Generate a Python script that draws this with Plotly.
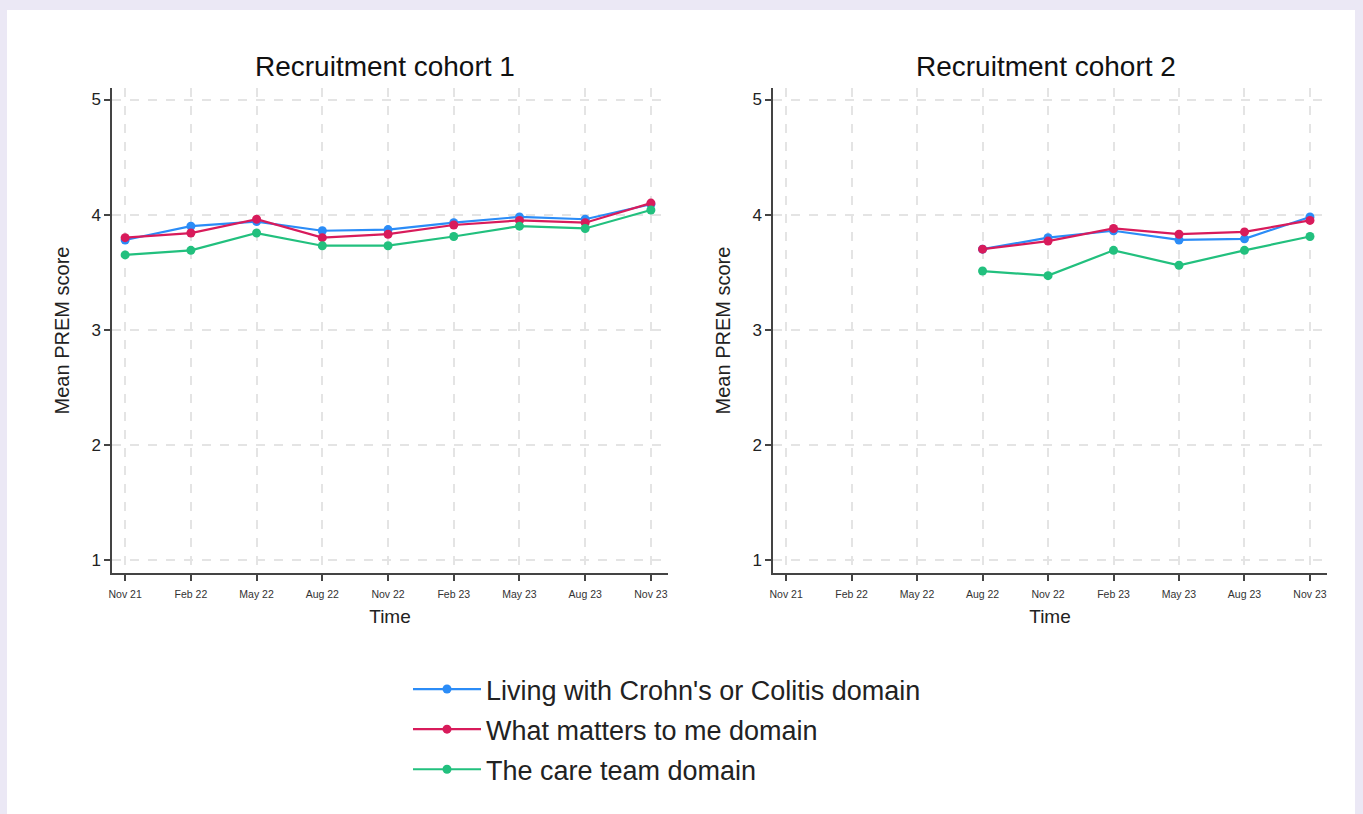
import plotly.graph_objects as go

W, H = 1363, 814

time_labels = ["Nov 21", "Feb 22", "May 22", "Aug 22", "Nov 22", "Feb 23", "May 23", "Aug 23", "Nov 23"]
cohort2_labels = ["Aug 22", "Nov 22", "Feb 23", "May 23", "Aug 23", "Nov 23"]

series_names = ["Living with Crohn's or Colitis domain", "What matters to me domain", "The care team domain"]
series_colors = ["#2b8cf7", "#d81b5b", "#22c07e"]

c1_living = [3.78, 3.90, 3.94, 3.86, 3.87, 3.93, 3.98, 3.96, 4.09]
c1_matters = [3.80, 3.84, 3.96, 3.80, 3.83, 3.91, 3.95, 3.93, 4.10]
c1_care = [3.65, 3.69, 3.84, 3.73, 3.73, 3.81, 3.90, 3.88, 4.04]

c2_living = [3.70, 3.80, 3.86, 3.78, 3.79, 3.98]
c2_matters = [3.70, 3.77, 3.88, 3.83, 3.85, 3.95]
c2_care = [3.51, 3.47, 3.69, 3.56, 3.69, 3.81]

y_ticks = [1, 2, 3, 4, 5]
panel_titles = ["Recruitment cohort 1", "Recruitment cohort 2"]

FONT = "Liberation Sans, Arial, sans-serif"

def px_x(p):
    return p / W

def px_y(p):
    return 1 - p / H

fig = go.Figure()

c1 = [c1_living, c1_matters, c1_care]
c2 = [c2_living, c2_matters, c2_care]
for i in range(3):
    fig.add_trace(go.Scatter(
        x=time_labels, y=c1[i], mode="lines+markers", name=series_names[i],
        line=dict(color=series_colors[i], width=2.2),
        marker=dict(color=series_colors[i], size=9),
        xaxis="x", yaxis="y", legendgroup=str(i), showlegend=True))
for i in range(3):
    fig.add_trace(go.Scatter(
        x=cohort2_labels, y=c2[i], mode="lines+markers", name=series_names[i],
        line=dict(color=series_colors[i], width=2.2),
        marker=dict(color=series_colors[i], size=9),
        xaxis="x2", yaxis="y2", legendgroup=str(i), showlegend=False))

ydom = [px_y(573), px_y(88)]
xcommon = dict(
    type="category", categoryorder="array", categoryarray=time_labels,
    range=[-0.2, 8.26], tickmode="array", tickvals=time_labels, ticktext=time_labels,
    showline=True, linecolor="#444", linewidth=1.5, ticks="outside", ticklen=6,
    tickcolor="#444", tickwidth=1.5, tickfont=dict(size=10.5, color="#333", family=FONT),
    ticklabelstandoff=5,
    showgrid=True, gridcolor="#e4e4e4", gridwidth=1.6, griddash="dash",
    zeroline=False, mirror=False,
    title=dict(text="Time", font=dict(size=19, color="#222", family=FONT), standoff=10),
)
ycommon = dict(
    range=[0.887, 5.10], tickmode="array", tickvals=y_ticks,
    showline=True, linecolor="#444", linewidth=1.5, ticks="outside", ticklen=6,
    tickcolor="#444", tickwidth=1.5, tickfont=dict(size=17, color="#222", family=FONT),
    showgrid=True, gridcolor="#e4e4e4", gridwidth=1.6, griddash="dash",
    zeroline=False,
    title=dict(text="Mean PREM score", font=dict(size=20, color="#222", family=FONT), standoff=16),
)

fig.update_layout(
    width=W, height=H,
    margin=dict(l=0, r=0, t=0, b=0, autoexpand=False),
    paper_bgcolor="#ebe8f5", plot_bgcolor="white",
    xaxis=dict(domain=[px_x(112), px_x(668)], anchor="y", **xcommon),
    yaxis=dict(domain=ydom, anchor="x", **ycommon),
    xaxis2=dict(domain=[px_x(773), px_x(1327)], anchor="y2", **xcommon),
    yaxis2=dict(domain=ydom, anchor="x2", **ycommon),
    showlegend=True,
    legend=dict(
        x=px_x(408), y=px_y(665), xanchor="left", yanchor="top",
        font=dict(size=27, color="#222", family=FONT),
        bgcolor="rgba(0,0,0,0)", itemwidth=68, tracegroupgap=2,
    ),
    shapes=[dict(type="rect", xref="paper", yref="paper", layer="below",
                 x0=px_x(7), x1=px_x(1355), y0=px_y(816), y1=px_y(10),
                 fillcolor="white", line=dict(width=0))],
    annotations=[
        dict(text=panel_titles[0], x=px_x(385), y=px_y(66), xref="paper", yref="paper",
             xanchor="center", yanchor="middle",
             showarrow=False, font=dict(size=28, color="#111", family=FONT)),
        dict(text=panel_titles[1], x=px_x(1046), y=px_y(66), xref="paper", yref="paper",
             xanchor="center", yanchor="middle",
             showarrow=False, font=dict(size=28, color="#111", family=FONT)),
    ],
)

fig.write_html(
    "out.html",
    config={"displayModeBar": False},
    post_script="document.body.style.margin='0';document.body.style.background='#ebe8f5';",
)
